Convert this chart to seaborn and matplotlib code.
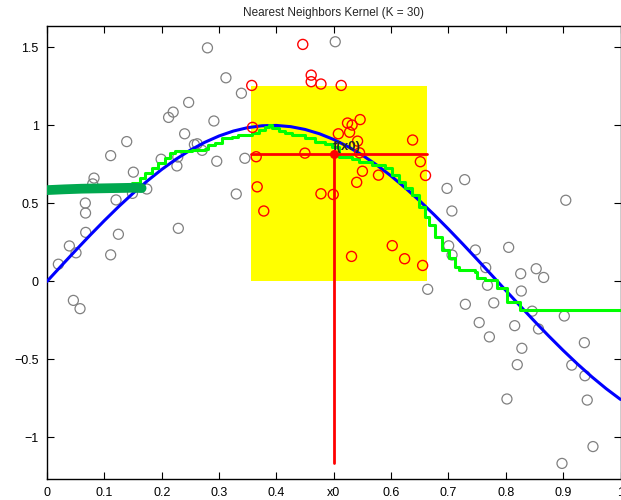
import numpy as np
import pandas as pd
import matplotlib
matplotlib.use("Agg")
import matplotlib.pyplot as plt
import seaborn as sns

# ---------------- data ----------------
gray_x = [0.0198, 0.039, 0.046, 0.0576, 0.0506, 0.111, 0.0675, 0.1245, 0.0672, 0.0668,
          0.1204, 0.149, 0.174, 0.0797, 0.082, 0.1506, 0.111, 0.139, 0.199, 0.228,
          0.2265, 0.229, 0.240, 0.212, 0.220, 0.247, 0.2798, 0.312, 0.339, 0.291,
          0.257, 0.262, 0.2705, 0.296, 0.345, 0.330,
          0.5026, 0.6975, 0.7283, 0.706, 0.9046, 0.7004, 0.7063, 0.747, 0.805, 0.6638,
          0.7295, 0.7536, 0.7714, 0.768, 0.765, 0.779, 0.826, 0.853, 0.866, 0.827,
          0.846, 0.8155, 0.857, 0.828, 0.820, 0.802, 0.902, 0.937, 0.915, 0.938,
          0.942, 0.952, 0.898]
gray_y = [0.110, 0.227, -0.122, -0.175, 0.183, 0.170, 0.314, 0.302, 0.438, 0.502,
          0.522, 0.564, 0.592, 0.625, 0.662, 0.700, 0.806, 0.896, 0.783, 0.797,
          0.740, 0.340, 0.946, 1.051, 1.085, 1.147, 1.497, 1.305, 1.206, 1.028,
          0.877, 0.882, 0.840, 0.770, 0.789, 0.560,
          1.536, 0.596, 0.652, 0.451, 0.520, 0.228, 0.169, 0.201, 0.218, -0.051,
          -0.147, -0.264, -0.356, -0.025, 0.088, -0.138, 0.049, 0.081, 0.025, -0.062,
          -0.191, -0.284, -0.305, -0.429, -0.534, -0.754, -0.222, -0.393, -0.537, -0.605,
          -0.761, -1.059, -1.167]

nn_x = [0.446, 0.4607, 0.4607, 0.4777, 0.357, 0.513, 0.3583, 0.3648, 0.4497, 0.3665,
        0.378, 0.4777, 0.4991, 0.546, 0.524, 0.532, 0.5276, 0.508, 0.5415, 0.6375,
        0.545, 0.651, 0.660, 0.550, 0.578, 0.540, 0.602, 0.531, 0.6236, 0.655]
nn_y = [1.519, 1.322, 1.280, 1.265, 1.256, 1.256, 0.987, 0.799, 0.822, 0.606,
        0.451, 0.5615, 0.557, 1.037, 1.015, 1.002, 0.956, 0.946, 0.899, 0.906,
        0.824, 0.767, 0.679, 0.706, 0.681, 0.635, 0.229, 0.160, 0.145, 0.102]

true_x = [0.0, 0.025, 0.05, 0.075, 0.1, 0.125, 0.15, 0.175, 0.2, 0.225, 0.25, 0.275,
          0.3, 0.325, 0.35, 0.375, 0.4, 0.425, 0.45, 0.475, 0.5, 0.525, 0.55, 0.575,
          0.6, 0.625, 0.65, 0.675, 0.7, 0.725, 0.75, 0.775, 0.8, 0.825, 0.85, 0.875,
          0.9, 0.925, 0.95, 0.975, 1.0]
true_y = [0.0, 0.0998, 0.1987, 0.2955, 0.3894, 0.4794, 0.5646, 0.6442, 0.7174, 0.7833,
          0.8415, 0.8912, 0.9320, 0.9636, 0.9854, 0.9975, 0.9996, 0.9917, 0.9738, 0.9463,
          0.9093, 0.8632, 0.8085, 0.7457, 0.6755, 0.5985, 0.5155, 0.4274, 0.3350, 0.2392,
          0.1411, 0.0416, -0.0584, -0.1577, -0.2555, -0.3508, -0.4425, -0.5298, -0.6119,
          -0.6878, -0.7568]

fit_x = [0.0, 0.1478, 0.1623, 0.171, 0.1827, 0.1943, 0.206, 0.2147, 0.2234, 0.2525,
         0.2757, 0.2816, 0.2932, 0.305, 0.3223, 0.3339, 0.3572, 0.3688, 0.380, 0.3863,
         0.392, 0.4037, 0.4154, 0.427, 0.450, 0.4677, 0.4852, 0.4968, 0.5084, 0.5317,
         0.5433, 0.5666, 0.590, 0.6015, 0.613, 0.6248, 0.6365, 0.648, 0.6597, 0.6655,
         0.6771, 0.6888, 0.7004, 0.712, 0.7178, 0.747, 0.750, 0.7644, 0.785, 0.802,
         0.8255, 1.0]
fit_y = [0.600, 0.632, 0.660, 0.692, 0.724, 0.756, 0.788, 0.820, 0.837, 0.842,
         0.846, 0.874, 0.885, 0.917, 0.927, 0.938, 0.949, 0.970, 0.991, 1.002,
         0.981, 0.965, 0.949, 0.938, 0.917, 0.895, 0.880, 0.863, 0.799, 0.782,
         0.767, 0.746, 0.724, 0.681, 0.638, 0.596, 0.553, 0.478, 0.414, 0.361,
         0.286, 0.201, 0.147, 0.094, 0.072, 0.062, 0.019, 0.008, -0.045, -0.131,
         -0.184, -0.184]

flat_x = [0.0, 0.03, 0.06, 0.09, 0.12, 0.15, 0.165]
flat_y = [0.585, 0.590, 0.594, 0.596, 0.598, 0.600, 0.598]

x0 = 0.5
fx0 = 0.814
window_lo, window_hi, window_top = 0.356, 0.6626, 1.252

xtick_vals = [0, 0.1, 0.2, 0.3, 0.4, 0.5, 0.6, 0.7, 0.8, 0.9, 1.0]
xtick_labels = ["0", "0.1", "0.2", "0.3", "0.4", "x0", "0.6", "0.7", "0.8", "0.9", "1"]
ytick_vals = [-1, -0.5, 0, 0.5, 1, 1.5]
ytick_labels = ["\u22121", "\u22120.5", "0", "0.5", "1", "1.5"]
title = "Nearest Neighbors Kernel (K = 30)"

# ---------------- plotting ----------------
sns.set_style("ticks")
plt.rcParams["font.family"] = ["Liberation Sans", "DejaVu Sans"]

fig = plt.figure(figsize=(6.21, 5.00), dpi=100)
ax = fig.add_axes([47 / 621, 21.3 / 500, 573.5 / 621, 452.7 / 500])

ax.fill_between([window_lo, window_hi], 0, window_top, color="#ffff00", linewidth=0, zorder=1)

gray_df = pd.DataFrame({"x": gray_x, "y": gray_y})
nn_df = pd.DataFrame({"x": nn_x, "y": nn_y})
true_df = pd.DataFrame({"x": true_x, "y": true_y})
fit_df = pd.DataFrame({"x": fit_x, "y": fit_y})
flat_df = pd.DataFrame({"x": flat_x, "y": flat_y})

sns.scatterplot(data=gray_df, x="x", y="y", ax=ax, marker="o", s=52,
                facecolor="none", edgecolor="#808080", linewidth=0.9, zorder=3)
sns.lineplot(data=true_df, x="x", y="y", ax=ax, color="#0000ff", linewidth=2.2,
             estimator=None, sort=False, zorder=4)
sns.lineplot(data=fit_df, x="x", y="y", ax=ax, color="#00ff00", linewidth=2.2,
             estimator=None, sort=False, drawstyle="steps-post", zorder=5)
sns.lineplot(data=flat_df, x="x", y="y", ax=ax, color="#00a84f", linewidth=7,
             estimator=None, sort=False, zorder=5, solid_capstyle="round")
sns.scatterplot(data=nn_df, x="x", y="y", ax=ax, marker="o", s=52,
                facecolor="none", edgecolor="#ff0000", linewidth=1.0, zorder=6)

ax.plot([window_lo, window_hi], [fx0, fx0], color="#ff0000", linewidth=2.0, zorder=7)
ax.plot([x0, x0], [fx0, -1.167], color="#ff0000", linewidth=2.0, zorder=7)
ax.plot([x0], [fx0], marker="o", color="#ff0000", markersize=5.5, zorder=8)
ax.text(x0 - 0.002, fx0 + 0.05, "f(x0)", fontsize=9.5, fontweight="bold",
        ha="left", va="center", zorder=9)

ax.set_xlim(0, 1)
ax.set_ylim(-1.265, 1.637)
ax.set_xticks(xtick_vals)
ax.set_xticklabels(xtick_labels)
ax.set_yticks(ytick_vals)
ax.set_yticklabels(ytick_labels)
ax.set_xlabel("")
ax.set_ylabel("")
ax.tick_params(direction="in", length=5, width=0.8, top=True, right=True,
               labelsize=9, pad=6, colors="black")
for sp in ax.spines.values():
    sp.set_visible(True)
    sp.set_linewidth(1.0)
    sp.set_color("black")
ax.set_title(title, fontsize=8.5, pad=7)

fig.savefig("out.png", dpi=100)
